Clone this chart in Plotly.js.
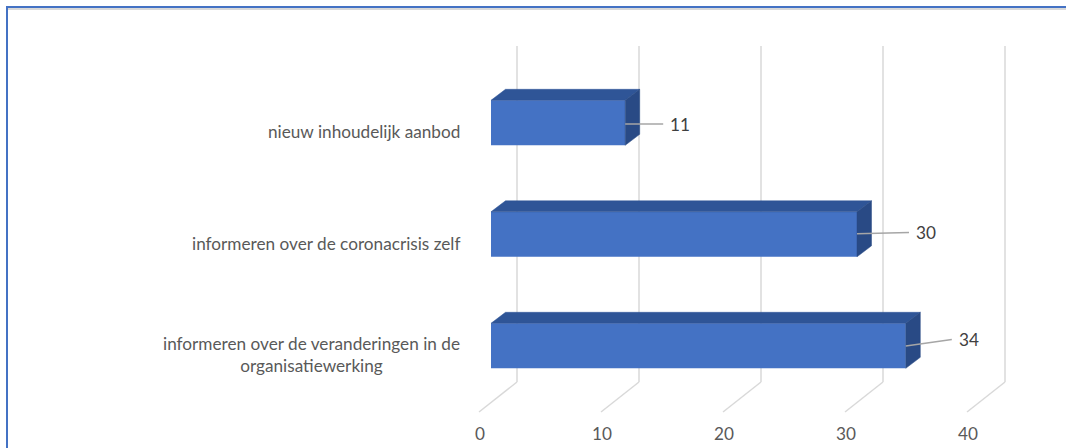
<!DOCTYPE html>
<html>
<head>
<meta charset="utf-8">
<script src="https://cdn.plot.ly/plotly-3.0.1.min.js"></script>
<style>
  html, body { margin: 0; padding: 0; background: #ffffff; }
  #wrap { position: relative; width: 1066px; height: 448px; overflow: hidden; background: #fff; }
  #chart { position: absolute; left: 0; top: 0; width: 1066px; height: 448px; }
  .fr { position: absolute; pointer-events: none; }
</style>
</head>
<body>
<div id="wrap">
  <div id="chart"></div>
  <div class="fr" style="left:6px;top:6px;right:0;height:2px;background:#4472C4;"></div>
  <div class="fr" style="left:8px;top:8px;right:0;height:2px;background:#d9d9d9;"></div>
  <div class="fr" style="left:6px;top:6px;width:2px;bottom:0;background:#4472C4;"></div>
</div>
<script>
// ---- data ----
const categories = [
  "nieuw inhoudelijk aanbod",
  "informeren over de coronacrisis zelf",
  "informeren over de veranderingen in de<br>organisatiewerking"
];
const values = [11, 30, 34];
const tickValues = [0, 10, 20, 30, 40];
const tickLabels = ["0", "10", "20", "30", "40"];
const valueLabels = ["11", "30", "34"];

// ---- geometry / style ----
const W = 1066, H = 448, MB = 26, PLOT_H = H - MB;
const PX_X = 12.2, X0 = 491;      // px per unit, px position of 0 on the front face
const PX_Y = 111.5, Y0 = 122.8;   // px per category, px centre of first bar
const ux = p => p / PX_X, uy = p => p / PX_Y;
const xr = [-X0 / PX_X, (W - X0) / PX_X];
const yr = [(PLOT_H - Y0) / PX_Y, -Y0 / PX_Y];
const BAR_H = 45, DX = 14.5, DY = 11;
const FONT = "Lato";
const FS = 17.2;
const FRONT = "#4472C4", TOP = "#2F5597", SIDE = "#294A85";
const GRID = "#d9d9d9";
const leadOff = [38, 52, 46], leadStartDy = [1.2, -0.5, 0.2], leadEndDy = [1.2, -1.8, -6.4];

const idx = categories.map((_, i) => i);
const traces = [];
traces.push({
  type: "bar", orientation: "h", y: idx, x: values, base: 0,
  width: uy(BAR_H),
  marker: { color: FRONT, line: { width: 0 } },
  hoverinfo: "skip", showlegend: false
});
values.forEach((v, i) => {
  const t = i - uy(BAR_H) / 2, b = i + uy(BAR_H) / 2;
  traces.push({
    type: "scatter", mode: "lines", fill: "toself", fillcolor: TOP,
    x: [0, v, v + ux(DX), ux(DX), 0],
    y: [t, t, t - uy(DY), t - uy(DY), t],
    line: { width: 0.5, color: TOP }, hoverinfo: "skip", showlegend: false
  });
  traces.push({
    type: "scatter", mode: "lines", fill: "toself", fillcolor: SIDE,
    x: [v, v, v + ux(DX), v + ux(DX), v],
    y: [t, b, b - uy(DY), t - uy(DY), t],
    line: { width: 0.5, color: SIDE }, hoverinfo: "skip", showlegend: false
  });
  traces.push({
    type: "scatter", mode: "lines",
    x: [v, v + ux(leadOff[i])],
    y: [i + uy(leadStartDy[i]), i + uy(leadEndDy[i])],
    line: { width: 1.5, color: "#A6A6A6" }, hoverinfo: "skip", showlegend: false
  });
});

const shapes = [];
const yBackTop = (46 - Y0) / PX_Y, yBackBot = (382 - Y0) / PX_Y, yFloor = (412 - Y0) / PX_Y;
tickValues.forEach(v => {
  shapes.push({ type: "line", layer: "below", xref: "x", yref: "y",
    x0: v + ux(26), x1: v + ux(26), y0: yBackTop, y1: yBackBot,
    line: { color: GRID, width: 1.5 } });
  shapes.push({ type: "line", layer: "below", xref: "x", yref: "y",
    x0: v + ux(26), x1: v + ux(-12), y0: yBackBot, y1: yFloor,
    line: { color: GRID, width: 1.5 } });
});

const annotations = [];
categories.forEach((c, i) => {
  annotations.push({ text: c, xref: "x", yref: "y", x: ux(462 - X0), y: i,
    xanchor: "right", yanchor: "middle", align: "center", yshift: -9, showarrow: false,
    font: { family: FONT, size: FS, color: "#595959" } });
});
values.forEach((v, i) => {
  annotations.push({ text: valueLabels[i], xref: "x", yref: "y",
    x: v + ux(leadOff[i] + 5), y: i + uy(leadEndDy[i]),
    xanchor: "left", yanchor: "middle", showarrow: false,
    font: { family: FONT, size: FS, color: "#404040" } });
});

const layout = {
  width: W, height: H,
  margin: { l: 0, r: 0, t: 0, b: MB, pad: 0 },
  paper_bgcolor: "rgba(0,0,0,0)", plot_bgcolor: "rgba(0,0,0,0)",
  showlegend: false,
  xaxis: { range: xr, tickvals: tickValues, ticktext: tickLabels, showgrid: false,
    zeroline: false, showline: false, ticks: "", ticklabelshift: -11,
    tickfont: { family: FONT, size: FS, color: "#595959" }, fixedrange: true },
  yaxis: { range: yr, showgrid: false, zeroline: false, showline: false,
    showticklabels: false, ticks: "", fixedrange: true },
  shapes: shapes, annotations: annotations
};
Plotly.newPlot("chart", traces, layout, { displayModeBar: false, staticPlot: true });
</script>
</body>
</html>
